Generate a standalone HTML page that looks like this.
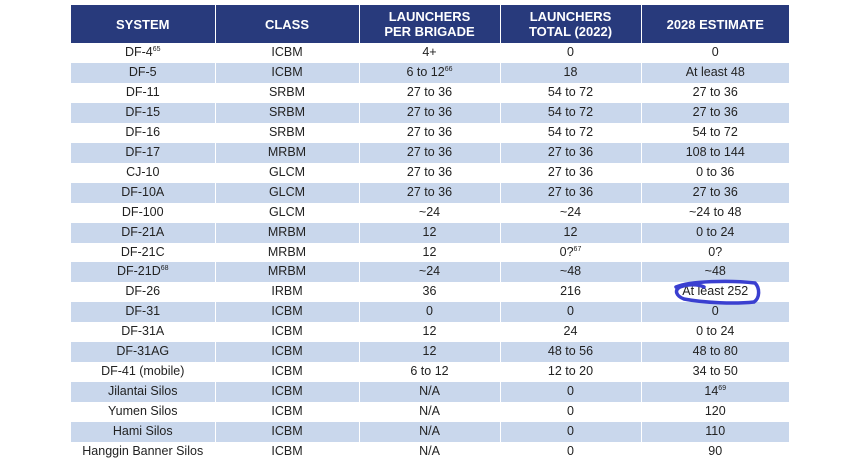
<!DOCTYPE html>
<html><head><style>
body{margin:0;width:862px;height:460px;background:#fff;overflow:hidden;position:relative;font-family:"Liberation Sans",Arial,sans-serif;}
table{position:absolute;left:71px;top:5px;border-collapse:collapse;table-layout:fixed;width:718px;}
td,th{padding:0;text-align:center;border-left:1px solid #fff;color:#222;font-size:12.5px;}
td:first-child,th:first-child{border-left:none;}
th{background:#283a7c;color:#fff;font-weight:bold;font-size:13px;height:38px;line-height:15px;}
td{height:19.95px;line-height:19.95px;}
tr.b td{background:#c9d7ec;}
sup{font-size:7px;line-height:0;vertical-align:5px;}
svg{position:absolute;left:0;top:0;}
</style></head><body>
<table>
<colgroup><col style="width:144px"><col style="width:144px"><col style="width:141px"><col style="width:141px"><col style="width:148px"></colgroup>
<tr><th>SYSTEM</th><th>CLASS</th><th>LAUNCHERS<br>PER BRIGADE</th><th>LAUNCHERS<br>TOTAL (2022)</th><th>2028 ESTIMATE</th></tr>
<tr><td>DF-4<sup>65</sup></td><td>ICBM</td><td>4+</td><td>0</td><td>0</td></tr>
<tr class="b"><td>DF-5</td><td>ICBM</td><td>6 to 12<sup>66</sup></td><td>18</td><td>At least 48</td></tr>
<tr><td>DF-11</td><td>SRBM</td><td>27 to 36</td><td>54 to 72</td><td>27 to 36</td></tr>
<tr class="b"><td>DF-15</td><td>SRBM</td><td>27 to 36</td><td>54 to 72</td><td>27 to 36</td></tr>
<tr><td>DF-16</td><td>SRBM</td><td>27 to 36</td><td>54 to 72</td><td>54 to 72</td></tr>
<tr class="b"><td>DF-17</td><td>MRBM</td><td>27 to 36</td><td>27 to 36</td><td>108 to 144</td></tr>
<tr><td>CJ-10</td><td>GLCM</td><td>27 to 36</td><td>27 to 36</td><td>0 to 36</td></tr>
<tr class="b"><td>DF-10A</td><td>GLCM</td><td>27 to 36</td><td>27 to 36</td><td>27 to 36</td></tr>
<tr><td>DF-100</td><td>GLCM</td><td>~24</td><td>~24</td><td>~24 to 48</td></tr>
<tr class="b"><td>DF-21A</td><td>MRBM</td><td>12</td><td>12</td><td>0 to 24</td></tr>
<tr><td>DF-21C</td><td>MRBM</td><td>12</td><td>0?<sup>67</sup></td><td>0?</td></tr>
<tr class="b"><td>DF-21D<sup>68</sup></td><td>MRBM</td><td>~24</td><td>~48</td><td>~48</td></tr>
<tr><td>DF-26</td><td>IRBM</td><td>36</td><td>216</td><td>At least 252</td></tr>
<tr class="b"><td>DF-31</td><td>ICBM</td><td>0</td><td>0</td><td>0</td></tr>
<tr><td>DF-31A</td><td>ICBM</td><td>12</td><td>24</td><td>0 to 24</td></tr>
<tr class="b"><td>DF-31AG</td><td>ICBM</td><td>12</td><td>48 to 56</td><td>48 to 80</td></tr>
<tr><td>DF-41 (mobile)</td><td>ICBM</td><td>6 to 12</td><td>12 to 20</td><td>34 to 50</td></tr>
<tr class="b"><td>Jilantai Silos</td><td>ICBM</td><td>N/A</td><td>0</td><td>14<sup>69</sup></td></tr>
<tr><td>Yumen Silos</td><td>ICBM</td><td>N/A</td><td>0</td><td>120</td></tr>
<tr class="b"><td>Hami Silos</td><td>ICBM</td><td>N/A</td><td>0</td><td>110</td></tr>
<tr><td>Hanggin Banner Silos</td><td>ICBM</td><td>N/A</td><td>0</td><td>90</td></tr>
</table>
<svg width="862" height="460"><path d="M676 287 C690 281,730 280,755 283 C760 288,760 298,754 302 C735 304,705 303,684 299 C676 296,674 290,680 287 C688 284,698 284,704 287" fill="none" stroke="#3a3fd0" stroke-width="3.5" stroke-linecap="round"/></svg>
</body></html>
